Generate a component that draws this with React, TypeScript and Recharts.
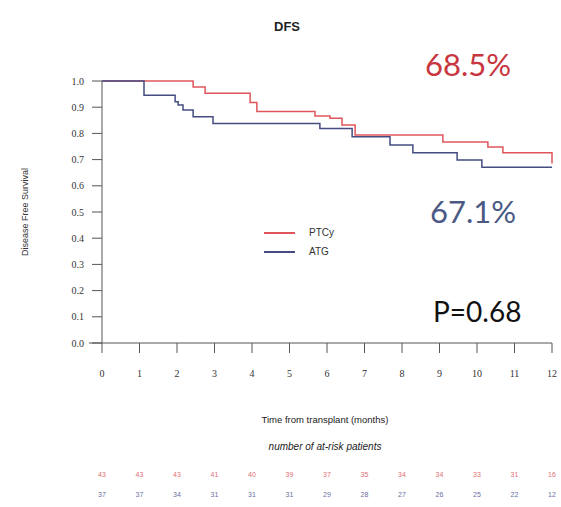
import React from 'react';
import { LineChart, Line, XAxis, YAxis, ReferenceLine } from 'recharts';

// Kaplan-Meier step points
const ptcyTime = [0, 2.43, 2.75, 3.95, 4.13, 5.68, 6.08, 6.4, 6.75, 9.09, 10.29, 10.69, 12];
const ptcySurv = [1, 0.977, 0.953, 0.918, 0.884, 0.866, 0.858, 0.832, 0.794, 0.767, 0.748, 0.726, 0.685];

const atgTime = [0, 1.12, 1.95, 2.03, 2.16, 2.43, 2.96, 5.81, 6.67, 7.68, 8.29, 9.47, 10.13, 12];
const atgSurv = [1, 0.946, 0.921, 0.908, 0.889, 0.864, 0.838, 0.819, 0.787, 0.756, 0.726, 0.698, 0.671, 0.671];

const months = [0, 1, 2, 3, 4, 5, 6, 7, 8, 9, 10, 11, 12];
const yTicks = [0, 0.1, 0.2, 0.3, 0.4, 0.5, 0.6, 0.7, 0.8, 0.9, 1.0];

const riskPtcy = [43, 43, 43, 41, 40, 39, 37, 35, 34, 34, 33, 31, 16];
const riskAtg = [37, 37, 34, 31, 31, 31, 29, 28, 27, 26, 25, 22, 12];

const seriesNames = ['PTCy', 'ATG'];
const RED = '#e0555c';
const BLUE = '#454c82';

const ptcyData = ptcyTime.map((t, i) => ({ t, s: ptcySurv[i] }));
const atgData = atgTime.map((t, i) => ({ t, s: atgSurv[i] }));
const riskRows = months.map((t, i) => ({ t, r: riskPtcy[i], b: riskAtg[i] }));

const serif = '"Liberation Serif", "DejaVu Serif", serif';
const sans = '"Liberation Sans", Arial, sans-serif';
const big = 'Lato, "Open Sans", sans-serif';

const abs = (x: number, y: number, extra: React.CSSProperties = {}): React.CSSProperties => ({
  position: 'absolute',
  left: x,
  top: y,
  whiteSpace: 'nowrap',
  ...extra,
});

const YLabel = (props: any) => {
  const { viewBox } = props;
  const cx = 26;
  const cy = viewBox.y + viewBox.height / 2;
  return (
    <text
      x={cx}
      y={cy}
      transform={`rotate(-90 ${cx} ${cy})`}
      textAnchor="middle"
      dominantBaseline="middle"
      fontSize={9}
      fontFamily={sans}
      fill="#333"
    >
      Disease Free Survival
    </text>
  );
};

export default function App() {
  return (
    <div
      style={{
        position: 'absolute',
        left: 0,
        top: 0,
        width: 561,
        height: 507,
        background: '#fff',
        overflow: 'hidden',
      }}
    >
      <LineChart
        width={561}
        height={507}
        data={riskRows}
        margin={{ top: 81, right: 9, left: 0, bottom: 0 }}
      >
        <XAxis
          xAxisId="main"
          dataKey="t"
          type="number"
          domain={[0, 12]}
          ticks={months}
          height={100}
          stroke="#555"
          tickSize={10}
          tickMargin={17}
          tick={{ fontSize: 10, fill: '#333', fontFamily: serif }}
        />
        {/* at-risk rows: axes stack in id order, riskA (PTCy) above riskB (ATG) */}
        <XAxis
          xAxisId="riskA"
          dataKey="t"
          type="number"
          domain={[0, 12]}
          ticks={months}
          height={32}
          axisLine={false}
          tickLine={false}
          tickSize={0}
          tickMargin={29}
          tickFormatter={(v: number) => String(riskPtcy[v])}
          tick={{ fontSize: 7, fill: '#e07075', fontFamily: sans }}
        />
        <XAxis
          xAxisId="riskB"
          dataKey="t"
          type="number"
          domain={[0, 12]}
          ticks={months}
          height={32}
          axisLine={false}
          tickLine={false}
          tickSize={0}
          tickMargin={17}
          tickFormatter={(v: number) => String(riskAtg[v])}
          tick={{ fontSize: 7, fill: '#6a70a5', fontFamily: sans }}
        />
        <YAxis
          type="number"
          domain={[0, 1]}
          ticks={yTicks}
          width={102}
          stroke="#555"
          tickSize={10}
          tickMargin={8}
          tickFormatter={(v: number) => v.toFixed(1)}
          tick={{ fontSize: 10, fill: '#333', fontFamily: serif }}
          label={<YLabel />}
        />
        <YAxis yAxisId="risk" type="number" domain={[0, 50]} hide />
        <ReferenceLine
          xAxisId="main"
          segment={[{ x: -0.35, y: 0 }, { x: 0, y: 0 }]}
          ifOverflow="visible"
          stroke="#555"
        />
        {/* invisible carriers so the at-risk axes have data */}
        <Line
          xAxisId="riskA"
          yAxisId="risk"
          dataKey="r"
          stroke="none"
          dot={false}
          activeDot={false}
          legendType="none"
          isAnimationActive={false}
        />
        <Line
          xAxisId="riskB"
          yAxisId="risk"
          dataKey="b"
          stroke="none"
          dot={false}
          activeDot={false}
          legendType="none"
          isAnimationActive={false}
        />
        <Line
          xAxisId="main"
          data={ptcyData}
          dataKey="s"
          name={seriesNames[0]}
          type="stepAfter"
          stroke={RED}
          strokeWidth={1.5}
          dot={false}
          isAnimationActive={false}
        />
        <Line
          xAxisId="main"
          data={atgData}
          dataKey="s"
          name={seriesNames[1]}
          type="stepAfter"
          stroke={BLUE}
          strokeWidth={1.5}
          dot={false}
          isAnimationActive={false}
        />
      </LineChart>

      {/* title, annotations, legend, axis captions */}
      <div style={abs(274, 19, { fontFamily: sans, fontWeight: 'bold', fontSize: 13, color: '#222' })}>DFS</div>
      <div style={abs(425, 45, { fontFamily: big, fontSize: 31, color: '#c8373f' })}>68.5%</div>
      <div style={abs(430, 192, { fontFamily: big, fontSize: 31, color: '#4b5a85' })}>67.1%</div>
      <div style={abs(433, 294, { fontFamily: big, fontSize: 28, color: '#111' })}>P=0.68</div>

      <div style={abs(264, 223, { fontFamily: sans, fontSize: 10, color: '#333', lineHeight: '19px' })}>
        {[RED, BLUE].map((c, i) => (
          <div key={seriesNames[i]} style={{ display: 'flex', alignItems: 'center', height: 19 }}>
            <span style={{ display: 'inline-block', width: 31, height: 2, background: c, marginRight: 14 }} />
            {seriesNames[i]}
          </div>
        ))}
      </div>

      <div style={abs(0, 414, { width: 650, textAlign: 'center', fontFamily: sans, fontSize: 9.5, color: '#222' })}>
        Time from transplant (months)
      </div>
      <div style={abs(0, 441, { width: 650, textAlign: 'center', fontFamily: sans, fontSize: 10, color: '#222', fontStyle: 'italic' })}>
        number of at-risk patients
      </div>
    </div>
  );
}
